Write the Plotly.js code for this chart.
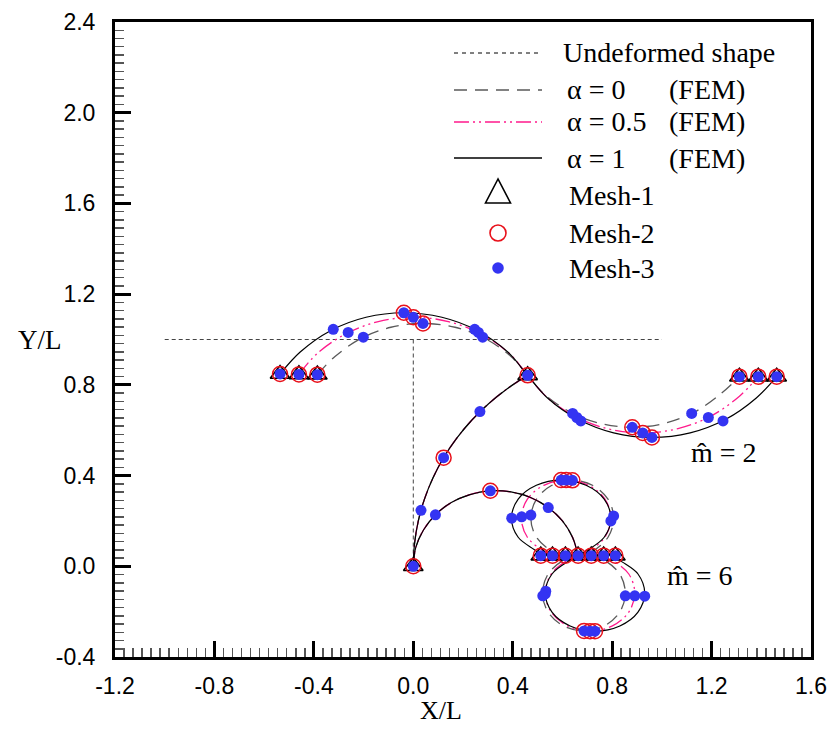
<!DOCTYPE html>
<html>
<head>
<meta charset="utf-8">
<script src="https://cdn.plot.ly/plotly-3.0.1.min.js"></script>
<style>html,body{margin:0;padding:0;background:#fff;}#chart{width:832px;height:729px;}</style>
</head>
<body>
<div id="chart"></div>
<script>
// ---------------- data ----------------
const xTickVals = [-1.2, -0.8, -0.4, 0.0, 0.4, 0.8, 1.2, 1.6];
const xTickText = ['-1.2', '-0.8', '-0.4', '0.0', '0.4', '0.8', '1.2', '1.6'];
const yTickVals = [-0.4, 0.0, 0.4, 0.8, 1.2, 1.6, 2.0, 2.4];
const yTickText = ['-0.4', '0.0', '0.4', '0.8', '1.2', '1.6', '2.0', '2.4'];

// undeformed T-shaped frame
const undefX = [-1.0, 1.0, null, 0.0, 0.0];
const undefY = [1.0, 1.0, null, 1.0, 0.0];

// m̂ = 2 : column (same for all alpha)
const colM2X = [0, 0.005, 0.020, 0.045, 0.079, 0.122, 0.175, 0.235, 0.303, 0.378, 0.460];
const colM2Y = [0, 0.100, 0.199, 0.296, 0.389, 0.479, 0.565, 0.644, 0.717, 0.783, 0.842];
// m̂ = 2 : beam, alpha = 1
const beamM2a1X = [-0.536, -0.455, -0.333, -0.190, -0.038, 0.115, 0.258, 0.380, 0.460, 0.540, 0.663, 0.806, 0.960, 1.114, 1.257, 1.380, 1.462];
const beamM2a1Y = [0.848, 0.945, 1.039, 1.098, 1.118, 1.098, 1.039, 0.945, 0.842, 0.742, 0.648, 0.588, 0.568, 0.588, 0.648, 0.742, 0.836];
// m̂ = 2 : beam, alpha = 0.5
const beamM2a05X = [-0.460, -0.387, -0.273, -0.141, 0.000, 0.141, 0.273, 0.387, 0.460, 0.534, 0.648, 0.780, 0.923, 1.065, 1.197, 1.311, 1.388];
const beamM2a05Y = [0.846, 0.938, 1.024, 1.079, 1.098, 1.079, 1.024, 0.938, 0.842, 0.749, 0.662, 0.607, 0.588, 0.607, 0.662, 0.749, 0.836];
// m̂ = 2 : beam, alpha = 0
const beamM2a0X = [-0.386, -0.315, -0.211, -0.090, 0.039, 0.168, 0.289, 0.393, 0.460, 0.527, 0.631, 0.752, 0.881, 1.010, 1.131, 1.235, 1.312];
const beamM2a0Y = [0.845, 0.925, 1.004, 1.054, 1.071, 1.054, 1.004, 0.925, 0.842, 0.759, 0.680, 0.630, 0.613, 0.630, 0.680, 0.759, 0.836];

// m̂ = 6 : column (same for all alpha)
const colM6X = [0, 0.010, 0.041, 0.089, 0.153, 0.228, 0.310, 0.393, 0.472, 0.543, 0.600, 0.641, 0.663];
const colM6Y = [0, 0.083, 0.160, 0.227, 0.281, 0.316, 0.333, 0.328, 0.303, 0.259, 0.200, 0.127, 0.047];
// m̂ = 6 : beam (upper loop + lower loop), alpha = 1
const beamM6a1X = [0.513, 0.495, 0.422, 0.395, 0.422, 0.495, 0.595, 0.695, 0.768, 0.795, 0.768, 0.695, 0.663, 0.631, 0.558, 0.531, 0.558, 0.631, 0.731, 0.831, 0.904, 0.931, 0.904, 0.831, 0.813];
const beamM6a1Y = [0.047, 0.067, 0.128, 0.212, 0.296, 0.357, 0.380, 0.357, 0.296, 0.212, 0.128, 0.067, 0.047, 0.027, -0.034, -0.118, -0.202, -0.263, -0.286, -0.263, -0.202, -0.118, -0.034, 0.027, 0.047];
// m̂ = 6 : beam, alpha = 0.5
const beamM6a05X = [0.560, 0.525, 0.459, 0.435, 0.459, 0.525, 0.615, 0.705, 0.771, 0.795, 0.771, 0.705, 0.663, 0.621, 0.555, 0.531, 0.555, 0.621, 0.711, 0.801, 0.867, 0.891, 0.867, 0.801, 0.766];
const beamM6a05Y = [0.047, 0.067, 0.128, 0.212, 0.296, 0.357, 0.380, 0.357, 0.296, 0.212, 0.128, 0.067, 0.047, 0.027, -0.034, -0.118, -0.202, -0.263, -0.286, -0.263, -0.202, -0.118, -0.034, 0.027, 0.047];
// m̂ = 6 : beam, alpha = 0
const beamM6a0X = [0.612, 0.556, 0.495, 0.473, 0.495, 0.556, 0.640, 0.723, 0.784, 0.806, 0.784, 0.723, 0.663, 0.603, 0.542, 0.520, 0.542, 0.603, 0.687, 0.770, 0.831, 0.853, 0.831, 0.770, 0.716];
const beamM6a0Y = [0.047, 0.068, 0.129, 0.212, 0.295, 0.356, 0.379, 0.356, 0.295, 0.212, 0.129, 0.068, 0.047, 0.026, -0.035, -0.118, -0.201, -0.262, -0.285, -0.262, -0.201, -0.118, -0.035, 0.026, 0.047];

// Mesh-1 nodes (triangles)
const mesh1X = [0.000, 0.460, -0.536, -0.460, -0.386, 1.312, 1.388, 1.462, 0.663, 0.513, 0.560, 0.612, 0.716, 0.766, 0.813];
const mesh1Y = [0.000, 0.842, 0.848, 0.846, 0.845, 0.836, 0.836, 0.836, 0.047, 0.047, 0.047, 0.047, 0.047, 0.047, 0.047];
// Mesh-2 extra nodes (mid-points)
const mesh2MidX = [0.122, -0.038, 0.000, 0.039, 0.960, 0.923, 0.881, 0.310, 0.595, 0.615, 0.640, 0.731, 0.711, 0.687];
const mesh2MidY = [0.479, 1.118, 1.098, 1.071, 0.568, 0.588, 0.613, 0.333, 0.380, 0.380, 0.379, -0.286, -0.286, -0.285];
// Mesh-3 extra nodes (quarter points)
const mesh3QuarterX = [0.031, 0.268, 0.247, -0.322, 0.262, -0.262, 0.279, -0.201, 0.674, 1.246, 0.658, 1.187, 0.641, 1.120,
                       0.089, 0.543, 0.396, 0.436, 0.473, 0.795, 0.806, 0.533, 0.531, 0.521, 0.931, 0.891, 0.853];
const mesh3QuarterY = [0.247, 0.682, 1.045, 1.045, 1.031, 1.031, 1.010, 1.010, 0.641, 0.641, 0.656, 0.656, 0.674, 0.674,
                       0.227, 0.259, 0.212, 0.218, 0.226, 0.200, 0.222, -0.110, -0.122, -0.130, -0.132, -0.130, -0.130];

const legendLabels = ['Undeformed shape', '\u03b1 = 0', '\u03b1 = 0.5', '\u03b1 = 1', 'Mesh-1', 'Mesh-2', 'Mesh-3'];
const femLabel = '(FEM)';

// ---------------- build ----------------
function join() {
  const out = [];
  for (let i = 0; i < arguments.length; i++) {
    if (i > 0) out.push(null);
    out.push.apply(out, arguments[i]);
  }
  return out;
}
const serif = 'Liberation Serif, Times New Roman, serif';
const sans = 'Liberation Sans, Arial, sans-serif';
const PINK = '#ff1a8c';
const GRAY = '#5a5a5a';
const RED = '#e8101a';
const BLUE = '#3434f2';
const dashGray = '13px,8px';
const dashPink = '15px,4px,2px,4px,2px,4px';

const traces = [
  {x: undefX, y: undefY, mode: 'lines', line: {color: '#444', width: 1, dash: '4px,3px'}, hoverinfo: 'skip'},
  {x: join(beamM2a0X, colM2X, beamM6a0X, colM6X), y: join(beamM2a0Y, colM2Y, beamM6a0Y, colM6Y),
   mode: 'lines', line: {color: GRAY, width: 1.3, dash: dashGray, shape: 'spline', smoothing: 1}},
  {x: join(beamM2a05X, colM2X, beamM6a05X, colM6X), y: join(beamM2a05Y, colM2Y, beamM6a05Y, colM6Y),
   mode: 'lines', line: {color: PINK, width: 1.3, dash: dashPink, shape: 'spline', smoothing: 1}},
  {x: join(beamM2a1X, colM2X, beamM6a1X, colM6X), y: join(beamM2a1Y, colM2Y, beamM6a1Y, colM6Y),
   mode: 'lines', line: {color: '#000', width: 1.2, shape: 'spline', smoothing: 1}},
  {x: mesh1X, y: mesh1Y, mode: 'markers', marker: {symbol: 'triangle-up-open', size: 17, color: '#000', line: {width: 1.6}}},
  {x: mesh1X.concat(mesh2MidX), y: mesh1Y.concat(mesh2MidY), mode: 'markers',
   marker: {symbol: 'circle-open', size: 15, color: RED, line: {width: 1.5}}},
  {x: mesh1X.concat(mesh2MidX, mesh3QuarterX), y: mesh1Y.concat(mesh2MidY, mesh3QuarterY), mode: 'markers',
   marker: {symbol: 'circle', size: 11, color: BLUE, line: {width: 0}}}
];

// plot-area geometry in pixels (for the hand-drawn legend)
const PL = 115, PT = 22, PW = 696, PH = 635;
const xp = px => (px - PL) / PW;
const yp = py => 1 - (py - PT) / PH;

const rows = [53, 90, 122, 158, 195, 233, 268];
const lx0 = 454, lx1 = 542, mcx = 498;
const shapes = [];
const lineStyles = [
  {color: '#000', width: 1, dash: '4px,4px'},
  {color: GRAY, width: 1.5, dash: dashGray},
  {color: PINK, width: 1.5, dash: dashPink},
  {color: '#000', width: 1.4, dash: 'solid'}
];
for (let i = 0; i < 4; i++) {
  shapes.push({type: 'line', xref: 'paper', yref: 'paper', x0: xp(lx0), x1: xp(lx1), y0: yp(rows[i]), y1: yp(rows[i]), line: lineStyles[i]});
}
// triangle
const tcy = rows[4];
shapes.push({type: 'path', xref: 'paper', yref: 'paper',
  path: 'M ' + xp(mcx) + ',' + yp(tcy - 16) + ' L ' + xp(mcx - 12.5) + ',' + yp(tcy + 8) + ' L ' + xp(mcx + 12.5) + ',' + yp(tcy + 8) + ' Z',
  line: {color: '#000', width: 1.6}, fillcolor: 'rgba(0,0,0,0)'});
shapes.push({type: 'circle', xref: 'paper', yref: 'paper', x0: xp(mcx - 8), x1: xp(mcx + 8), y0: yp(rows[5] + 8), y1: yp(rows[5] - 8),
  line: {color: RED, width: 1.6}, fillcolor: 'rgba(0,0,0,0)'});
shapes.push({type: 'circle', xref: 'paper', yref: 'paper', x0: xp(mcx - 5.8), x1: xp(mcx + 5.8), y0: yp(rows[6] + 5.8), y1: yp(rows[6] - 5.8),
  line: {color: BLUE, width: 0}, fillcolor: BLUE});

const annFont = {family: serif, size: 28, color: '#000'};
const annotations = [];
const textX = [561, 565, 565, 565, 567, 567, 567];
for (let i = 0; i < legendLabels.length; i++) {
  annotations.push({xref: 'paper', yref: 'paper', x: xp(textX[i]), y: yp(rows[i]), xanchor: 'left', yanchor: 'middle',
    text: legendLabels[i], showarrow: false, font: annFont});
}
for (let i = 1; i < 4; i++) {
  annotations.push({xref: 'paper', yref: 'paper', x: xp(667), y: yp(rows[i]), xanchor: 'left', yanchor: 'middle',
    text: femLabel, showarrow: false, font: annFont});
}
annotations.push({xref: 'x', yref: 'y', x: 1.108, y: 0.503, xanchor: 'left', yanchor: 'middle', text: 'm\u0302 = 2', showarrow: false, font: {family: serif, size: 28, color: '#000'}});
annotations.push({xref: 'x', yref: 'y', x: 1.012, y: -0.04, xanchor: 'left', yanchor: 'middle', text: 'm\u0302 = 6', showarrow: false, font: {family: serif, size: 28, color: '#000'}});
annotations.push({xref: 'paper', yref: 'y', x: xp(40), y: 1.0, xanchor: 'center', yanchor: 'middle', text: 'Y/L', showarrow: false, font: {family: serif, size: 27, color: '#000'}});
annotations.push({xref: 'x', yref: 'paper', x: 0.111, y: yp(710), xanchor: 'center', yanchor: 'middle', text: 'X/L', showarrow: false, font: {family: serif, size: 26, color: '#000'}});

const axisCommon = {
  showgrid: false, zeroline: false, showline: true, linecolor: '#000', linewidth: 3, mirror: true,
  ticks: 'inside', ticklen: 16, tickwidth: 3, tickcolor: '#000', tickmode: 'array',
  tickfont: {family: sans, size: 23, color: '#000'},
  minor: {tickmode: 'linear', tick0: 0, dtick: 0.4 / 11, ticks: 'inside', ticklen: 9, tickwidth: 1.5, tickcolor: '#555', showgrid: false}
};
const layout = {
  width: 832, height: 729,
  margin: {l: PL, r: 832 - PL - PW, t: PT, b: 729 - PT - PH},
  paper_bgcolor: '#fff', plot_bgcolor: '#fff', showlegend: false,
  xaxis: Object.assign({}, axisCommon, {range: [-1.2, 1.6], tickvals: xTickVals, ticktext: xTickText, ticklabelstandoff: 6}),
  yaxis: Object.assign({}, axisCommon, {range: [-0.4, 2.4], tickvals: yTickVals, ticktext: yTickText, ticklabelstandoff: 12}),
  shapes: shapes, annotations: annotations
};
Plotly.newPlot('chart', traces, layout, {staticPlot: true, displayModeBar: false});
</script>
</body>
</html>
